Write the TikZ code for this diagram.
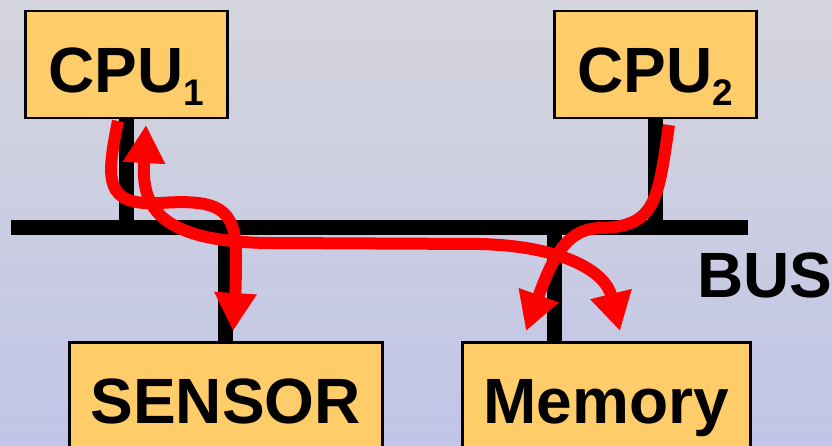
\documentclass[tikz,border=0pt]{standalone}
\usepackage{fontspec}
\setmainfont{Liberation Sans}
\usetikzlibrary{arrows.meta}
\definecolor{bgtop}{RGB}{213,213,221}
\definecolor{bgbot}{RGB}{193,197,231}
\definecolor{boxfill}{RGB}{255,204,106}
\tikzset{
  box/.style={draw=black,line width=2.5pt,fill=boxfill,inner sep=0pt,anchor=north west,
    font=\fontsize{64}{64}\selectfont\bfseries},
  lbl/.style={inner sep=0pt,font=\fontsize{64}{64}\selectfont\bfseries},
  busline/.style={line width=15pt,draw=black},
  flow/.style={draw=red,line width=12pt},
  head/.style={-{Triangle[length=38pt,width=40pt]}},
  heads/.style={{Triangle[length=38pt,width=40pt]}-{Triangle[length=38pt,width=40pt]}}
}
\newcommand{\lowidx}[1]{\raisebox{-13pt}{\fontsize{37}{37}\selectfont #1}}
\begin{document}
\begin{tikzpicture}[x=1pt,y=-1pt]
\useasboundingbox (0,0) rectangle (832,446);
\shade[top color=bgtop,bottom color=bgbot] (0,0) rectangle (832,446);
\clip (0,0) rectangle (832,446);
% bus
\coordinate (busL) at (11,228);
\coordinate (busR) at (748,228);
\coordinate (memtap) at (554,341);
% boxes
\node[box,minimum width=202pt,text height=81pt,text depth=26pt] (cpu1) at (24,10) {CPU\lowidx{1}};
\node[box,minimum width=202pt,text height=81pt,text depth=26pt] (cpu2) at (553,10) {CPU\lowidx{2}};
\node[box,minimum width=313pt,text height=81pt,text depth=50pt] (sensor) at (68,341) {SENSOR};
\node[box,minimum width=288pt,text height=81pt,text depth=50pt] (mem) at (461,341) {Memory};
\node[lbl,anchor=base west] (bus) at (697,297) {BUS};
% bus and stubs
\draw[busline] (busL) -- (busR);
\draw[busline] (cpu1.south) -- (cpu1.south |- busL);
\draw[busline] (cpu2.south) -- (cpu2.south |- busL);
\draw[busline] (sensor.north) -- (sensor.north |- busL);
\draw[busline] (memtap) -- (memtap |- busL);
% flows
\coordinate (a0) at (118,121);
\coordinate (a1) at (233,331);
\coordinate (b0) at (146,125);
\coordinate (b1) at (620,331);
\coordinate (c0) at (669,125);
\coordinate (c1) at (526,331);
\draw[flow,head] (a0) .. controls (106,180) and (104,206) .. (160,203)
   .. controls (218,199) and (236,208) .. (236,255) .. controls (236,285) and (235,300) .. (a1);
\draw[flow,heads] (b0) .. controls (142,200) and (150,242) .. (270,243)
   -- (480,244) .. controls (560,246) and (605,270) .. (b1);
\draw[flow,head] (c0) .. controls (658,200) and (656,227) .. (600,228)
   .. controls (570,229) and (555,250) .. (c1);
\end{tikzpicture}
\end{document}
